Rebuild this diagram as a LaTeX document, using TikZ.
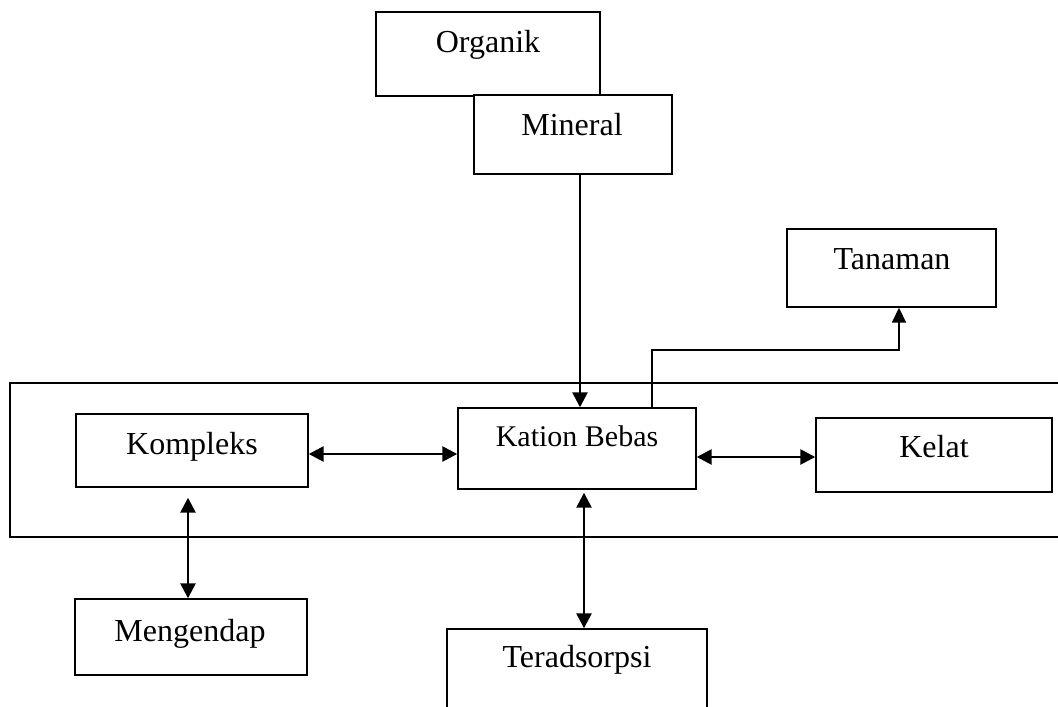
\documentclass[tikz,border=0pt]{standalone}
\usepackage{fontspec}
\setmainfont{Liberation Serif}
\usetikzlibrary{arrows.meta}
\begin{document}
\begin{tikzpicture}[x=1pt,y=-1pt,
  box/.style={draw=black,line width=1.4pt,rectangle,inner sep=0pt},
  txt/.style={font=\fontsize{32}{38}\selectfont,inner sep=0pt,anchor=base},
  txts/.style={font=\fontsize{30}{36}\selectfont,inner sep=0pt,anchor=base},
  arr/.style={line width=2.6pt,-{Triangle[length=15pt,width=15pt]}},
  darr/.style={line width=2.6pt,{Triangle[length=15pt,width=15pt]}-{Triangle[length=15pt,width=15pt]}},
  thinarr/.style={line width=1.7pt,-{Triangle[length=15pt,width=14pt]}}]
\useasboundingbox (0,0) rectangle (1058,707);
\clip (0,0) rectangle (1058,707);
\fill[white] (0,0) rectangle (1058,707);
% outer frame (open on the right)
\draw[line width=1.7pt] (1060,383) -- (10,383) -- (10,537) -- (1060,537);
% boxes
\node[box,minimum width=224pt,minimum height=84pt] (org) at (488,54) {};
\node[txt] at (488,52) {Organik};
\node[box,fill=white,minimum width=198pt,minimum height=79pt] (min) at (573,134.5) {};
\node[txt] at (572,135) {Mineral};
\node[box,minimum width=209pt,minimum height=78pt] (tan) at (891.5,268) {};
\node[txt] at (892,269) {Tanaman};
\node[box,minimum width=232pt,minimum height=73pt] (kom) at (192,450.5) {};
\node[txt] at (192,454) {Kompleks};
\node[box,minimum width=238pt,minimum height=81pt] (kat) at (577,448.5) {};
\node[txts] at (577,446.5) {Kation Bebas};
\node[box,minimum width=236pt,minimum height=74pt] (kel) at (934,455) {};
\node[txt] at (934,457) {Kelat};
\node[box,minimum width=232pt,minimum height=76pt] (men) at (191,637) {};
\node[txt] at (190,641) {Mengendap};
\node[box,minimum width=260pt,minimum height=100pt] (ter) at (577,679) {};
\node[txt] at (577,667) {Teradsorpsi};
% connectors
\draw[arr] ([xshift=7pt]min.south) -- ([xshift=7pt]min.south |- kat.north);
\draw[thinarr] ([xshift=75pt]kat.north) -- ++(0,-57) -| ([xshift=7.5pt]tan.south);
\draw[darr] ([yshift=-3.5pt]kom.east) -- ([yshift=-3.5pt]kom.east -| kat.west);
\draw[darr] ([yshift=-8.5pt]kat.east) -- ([yshift=-8.5pt]kat.east -| kel.west);
\draw[darr] ([xshift=-4pt,yshift=-10pt]kom.south) -- ([xshift=-4pt]kom.south |- men.north);
\draw[darr] ([xshift=7pt,yshift=-3pt]kat.south) -- ([xshift=7pt]kat.south |- ter.north);
\end{tikzpicture}
\end{document}
